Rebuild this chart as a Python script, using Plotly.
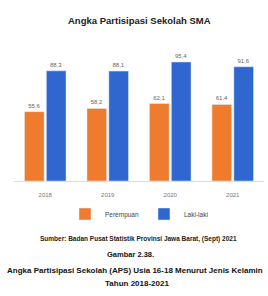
import plotly.graph_objects as go

years = ["2018", "2019", "2020", "2021"]
perempuan = [55.6, 58.2, 62.1, 61.4]
laki_laki = [88.3, 88.1, 95.4, 91.6]

title_text = "Angka Partisipasi Sekolah SMA"
source_text = "Sumber: Badan Pusat Statistik Provinsi Jawa Barat, (Sept) 2021"
fig_no = "Gambar 2.38."
caption1 = "Angka Partisipasi Sekolah (APS) Usia 16-18 Menurut Jenis Kelamin"
caption2 = "Tahun 2018-2021"

W, H = 268, 296
ML, MR, MT, MB = 14, 4, 50, 115
PH = H - MT - MB
PW = W - ML - MR

def py(p):
    return (H - MB - p) / PH

def px(p):
    return (p - ML) / PW

fig = go.Figure()
fig.add_trace(go.Bar(x=years, y=perempuan, name="Perempuan", marker_color="#EE7B2E",
                     text=perempuan, texttemplate="%{y:.1f}", textposition="outside",
                     textfont=dict(size=6, color="#666"), cliponaxis=False))
fig.add_trace(go.Bar(x=years, y=laki_laki, name="Laki-laki", marker_color="#2F66CF",
                     text=laki_laki, texttemplate="%{y:.1f}", textposition="outside",
                     textfont=dict(size=6, color="#666"), cliponaxis=False))

fig.update_layout(
    width=W, height=H,
    margin=dict(l=ML, r=MR, t=MT, b=MB, autoexpand=False),
    paper_bgcolor="white", plot_bgcolor="white",
    barmode="group", bargap=0.3, bargroupgap=0.1,
    separators=",.",
    font=dict(family="Liberation Sans, Arial, sans-serif", color="#333"),
    showlegend=True,
    legend=dict(orientation="h", x=0.5, xanchor="center", y=py(214), yanchor="middle",
                font=dict(size=6.5, color="#444"), itemwidth=30),
    xaxis=dict(showgrid=False, showline=True, linecolor="#ddd", ticks="",
               tickfont=dict(size=6, color="#777"), ticklabelstandoff=8),
    yaxis=dict(visible=False, range=[0, 105]),
)

ann = [
    (title_text, 139, 20, 9.5, "#222"),
    (source_text, 138, 239, 6.5, "#222"),
    (fig_no, 130, 254, 7.5, "#111"),
    (caption1, 135, 270, 8, "#111"),
    (caption2, 137, 283, 8, "#111"),
]
for t, x, y, s, c in ann:
    fig.add_annotation(text="<b>%s</b>" % t, xref="paper", yref="paper",
                       x=px(x), y=py(y), xanchor="center", yanchor="middle",
                       showarrow=False, font=dict(size=s, color=c))

fig.write_html("out.html", config={"displayModeBar": False},
               post_script="document.body.style.margin='0';document.body.style.overflow='hidden';")
